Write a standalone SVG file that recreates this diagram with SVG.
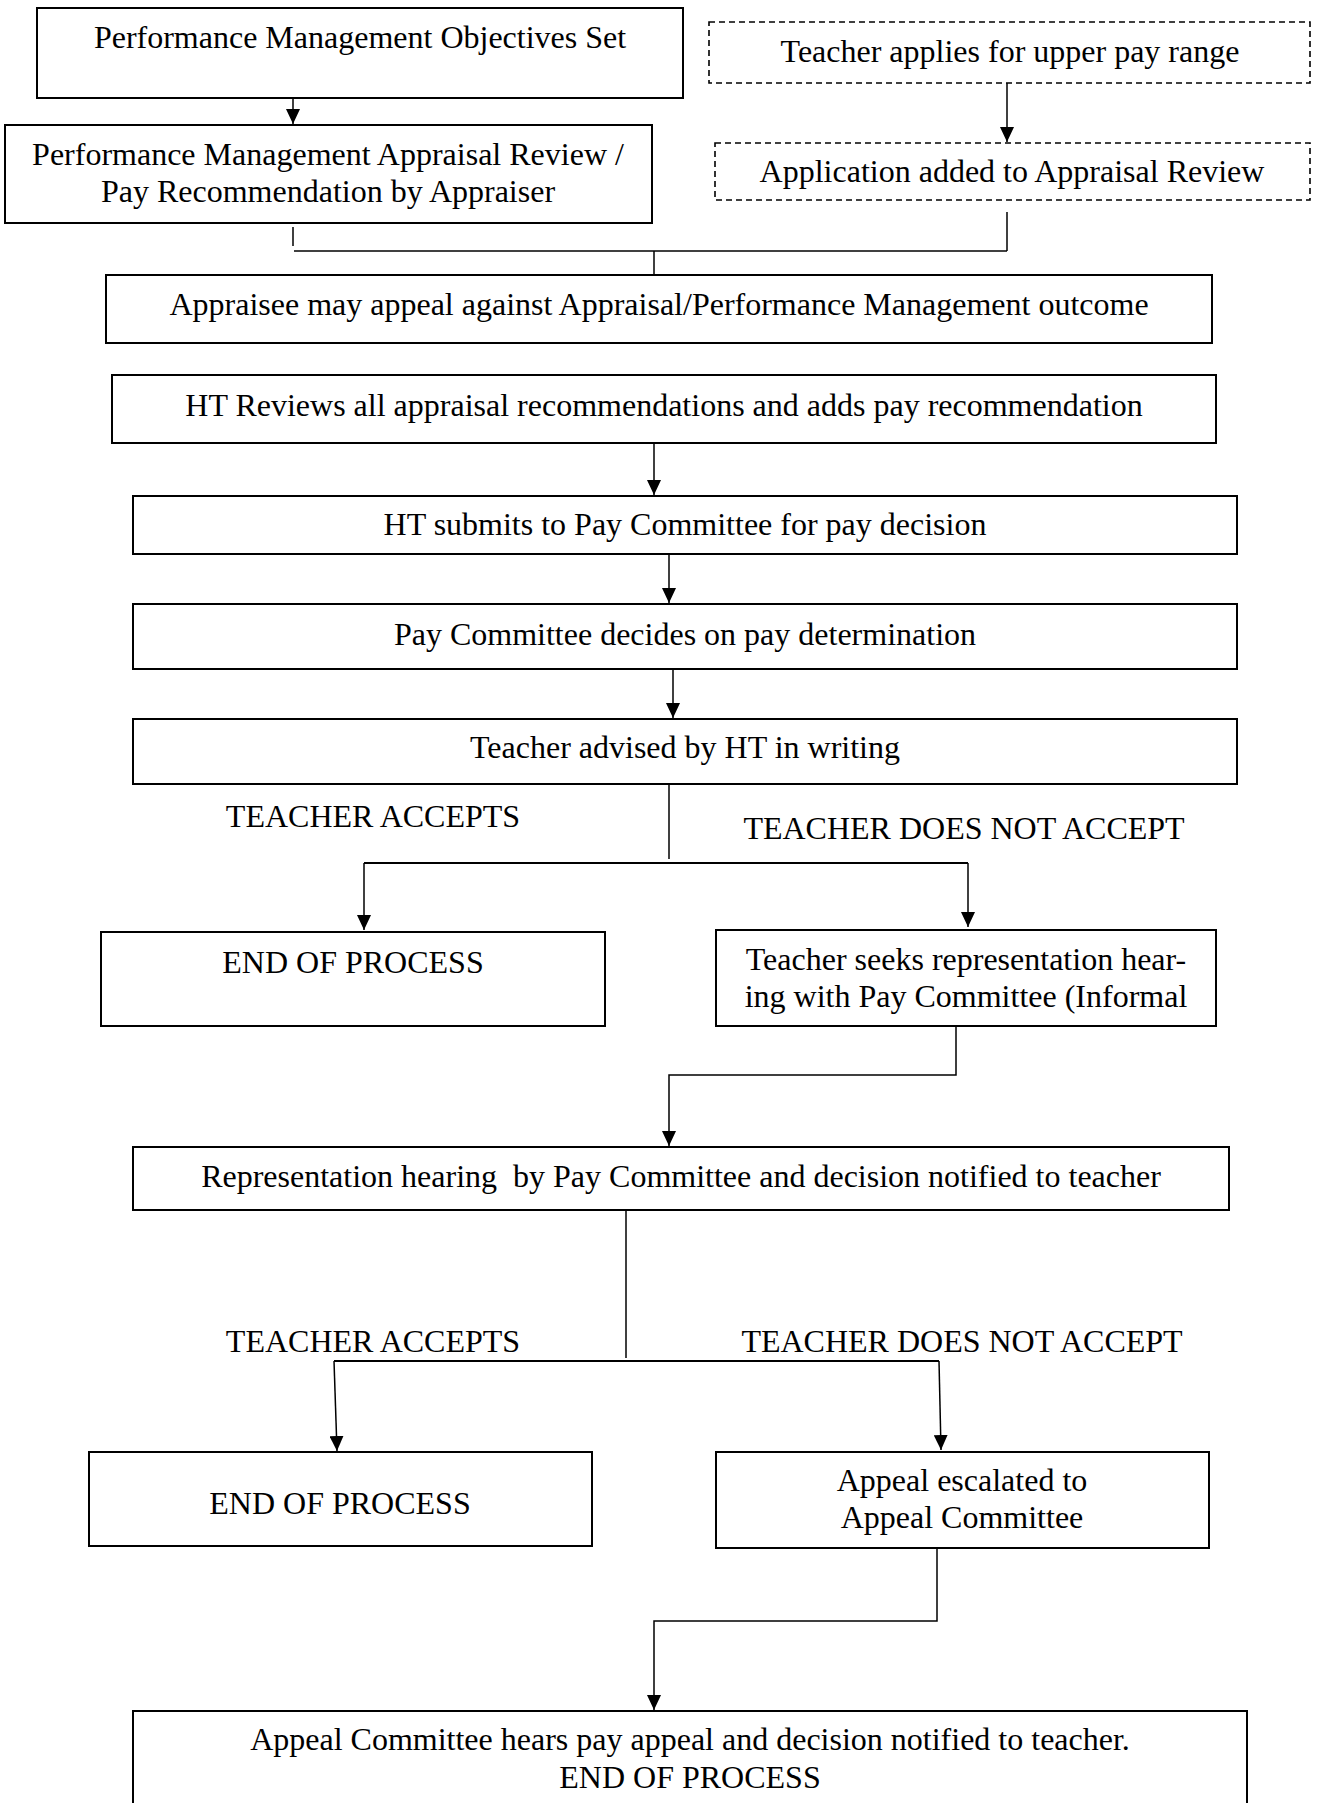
<svg xmlns="http://www.w3.org/2000/svg" width="1326" height="1803" viewBox="0 0 1326 1803">
<style>
.box{fill:#fff;stroke:#000;stroke-width:2}
.dash{fill:#fff;stroke:#000;stroke-width:1.6;stroke-dasharray:6 4}
.t{font-family:"Liberation Serif","Times New Roman",serif;font-size:32px;fill:#000;text-anchor:middle}
.ln{fill:none;stroke:#000;stroke-width:1.5}
.ar{fill:none;stroke:#000;stroke-width:1.5;marker-end:url(#ah)}
</style>
<defs>
<marker id="ah" markerUnits="userSpaceOnUse" markerWidth="15" markerHeight="14" refX="15" refY="7" orient="auto">
<path d="M0,0 L15,7 L0,14 z" fill="#000"/>
</marker>
</defs>
<rect width="1326" height="1803" fill="#fff"/>
<g id="connectors">
<line class="ar" x1="293" y1="98" x2="293" y2="124"/>
<line class="ar" x1="1007" y1="83" x2="1007" y2="142"/>
<line class="ln" x1="293" y1="227" x2="293" y2="246"/>
<line class="ln" x1="294" y1="251" x2="1007" y2="251"/>
<line class="ln" x1="1007" y1="212" x2="1007" y2="251"/>
<line class="ln" x1="654" y1="251" x2="654" y2="275"/>
<line class="ar" x1="654" y1="443" x2="654" y2="495"/>
<line class="ar" x1="669" y1="554" x2="669" y2="603"/>
<line class="ar" x1="673" y1="669" x2="673" y2="718"/>
<line class="ln" x1="669" y1="784" x2="669" y2="859"/>
<polyline class="ln" style="stroke-width:2" points="364,863 968,863"/>
<line class="ar" x1="364" y1="863" x2="364" y2="930"/>
<line class="ar" x1="968" y1="863" x2="968" y2="927"/>
<polyline class="ar" points="956,1026 956,1075 669,1075 669,1146"/>
<line class="ln" x1="626" y1="1210" x2="626" y2="1358"/>
<polyline class="ln" style="stroke-width:2" points="334,1361 939,1361"/>
<line class="ar" x1="334" y1="1361" x2="337" y2="1451"/>
<line class="ar" x1="939" y1="1361" x2="941" y2="1450"/>
<polyline class="ar" points="937,1548 937,1621 654,1621 654,1710"/>
</g>
<g id="n1"><rect class="box" x="37" y="8" width="646" height="90"/><text class="t" x="360" y="48">Performance Management Objectives Set</text></g>
<g id="n2"><rect class="dash" x="709" y="22" width="601" height="61"/><text class="t" x="1010" y="62">Teacher applies for upper pay range</text></g>
<g id="n3"><rect class="dash" x="715" y="143" width="595" height="57"/><text class="t" x="1012" y="182">Application added to Appraisal Review</text></g>
<g id="n4"><rect class="box" x="5" y="125" width="647" height="98"/><text class="t" x="328" y="165">Performance Management Appraisal Review /</text><text class="t" x="328" y="202">Pay Recommendation by Appraiser</text></g>
<g id="n5"><rect class="box" x="106" y="275" width="1106" height="68"/><text class="t" x="659" y="315">Appraisee may appeal against Appraisal/Performance Management outcome</text></g>
<g id="n6"><rect class="box" x="112" y="375" width="1104" height="68"/><text class="t" x="664" y="416">HT Reviews all appraisal recommendations and adds pay recommendation</text></g>
<g id="n7"><rect class="box" x="133" y="496" width="1104" height="58"/><text class="t" x="685" y="535">HT submits to Pay Committee for pay decision</text></g>
<g id="n8"><rect class="box" x="133" y="604" width="1104" height="65"/><text class="t" x="685" y="645">Pay Committee decides on pay determination</text></g>
<g id="n9"><rect class="box" x="133" y="719" width="1104" height="65"/><text class="t" x="685" y="758">Teacher advised by HT in writing</text></g>
<g id="labels1"><text class="t" x="373" y="827">TEACHER ACCEPTS</text><text class="t" x="964" y="839">TEACHER DOES NOT ACCEPT</text></g>
<g id="n10"><rect class="box" x="101" y="932" width="504" height="94"/><text class="t" x="353" y="973">END OF PROCESS</text></g>
<g id="n11"><rect class="box" x="716" y="930" width="500" height="96"/><text class="t" x="966" y="970">Teacher seeks representation hear-</text><text class="t" x="966" y="1007">ing with Pay Committee (Informal</text></g>
<g id="n12"><rect class="box" x="133" y="1147" width="1096" height="63"/><text class="t" x="681" y="1187" xml:space="preserve">Representation hearing  by Pay Committee and decision notified to teacher</text></g>
<g id="labels2"><text class="t" x="373" y="1352">TEACHER ACCEPTS</text><text class="t" x="962" y="1352">TEACHER DOES NOT ACCEPT</text></g>
<g id="n13"><rect class="box" x="89" y="1452" width="503" height="94"/><text class="t" x="340" y="1514">END OF PROCESS</text></g>
<g id="n14"><rect class="box" x="716" y="1452" width="493" height="96"/><text class="t" x="962" y="1491">Appeal escalated to</text><text class="t" x="962" y="1528">Appeal Committee</text></g>
<g id="n15"><rect class="box" x="133" y="1711" width="1114" height="130"/><text class="t" x="690" y="1750">Appeal Committee hears pay appeal and decision notified to teacher.</text><text class="t" x="690" y="1788">END OF PROCESS</text></g>
</svg>
